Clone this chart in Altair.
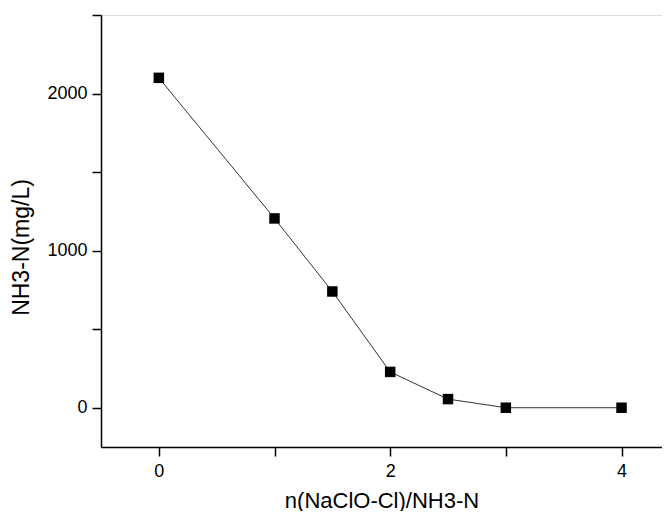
import altair as alt
import pandas as pd

ratio = [0, 1, 1.5, 2, 2.5, 3, 4]
nh3n = [2100, 1205, 740, 228, 55, 0, 0]

df = pd.DataFrame({"ratio": ratio, "nh3n": nh3n})

font = "Liberation Sans"

x = alt.X(
    "ratio:Q",
    scale=alt.Scale(domain=[-0.5, 4.35], nice=False, zero=False),
    axis=alt.Axis(
        title="n(NaClO-Cl)/NH3-N",
        values=[0, 1, 2, 3, 4],
        labelExpr="datum.value % 2 == 0 ? datum.label : ''",
        format="d",
        grid=False,
        tickSize=9,
        tickWidth=1.5,
        domainWidth=1.5,
        domainColor="black",
        tickColor="black",
        labelFont=font,
        labelFontSize=18,
        labelColor="black",
        labelPadding=6,
        titleFont=font,
        titleFontSize=22,
        titleFontWeight="normal",
        titleColor="black",
        titleBaseline="alphabetic",
        titleY=60,
    ),
)

y = alt.Y(
    "nh3n:Q",
    scale=alt.Scale(domain=[-250, 2500], nice=False, zero=False),
    axis=alt.Axis(
        title="NH3-N(mg/L)",
        values=[0, 500, 1000, 1500, 2000, 2500],
        labelExpr="datum.value % 1000 == 0 ? datum.label : ''",
        format="d",
        grid=False,
        tickSize=9,
        tickWidth=1.5,
        domainWidth=1.5,
        domainColor="black",
        tickColor="black",
        labelFont=font,
        labelFontSize=18,
        labelColor="black",
        labelPadding=5,
        titleFont=font,
        titleFontSize=23,
        titleFontWeight="normal",
        titleColor="black",
        titlePadding=13,
        titleY=232,
    ),
)

base = alt.Chart(df)
line = base.mark_line(color="#333333", strokeWidth=1).encode(x=x, y=y)
pts = base.mark_point(shape="square", filled=True, color="black", size=110, opacity=1).encode(x=x, y=y)

chart = (
    alt.layer(line, pts)
    .properties(
        width=561,
        height=432,
        autosize=alt.AutoSizeParams(type="none"),
        padding={"left": 93, "top": 7, "right": 0, "bottom": 64},
    )
    .configure_view(stroke=None)
    .configure(background="white")
)

chart.save("out.html", embed_options={"renderer": "svg", "actions": False})
